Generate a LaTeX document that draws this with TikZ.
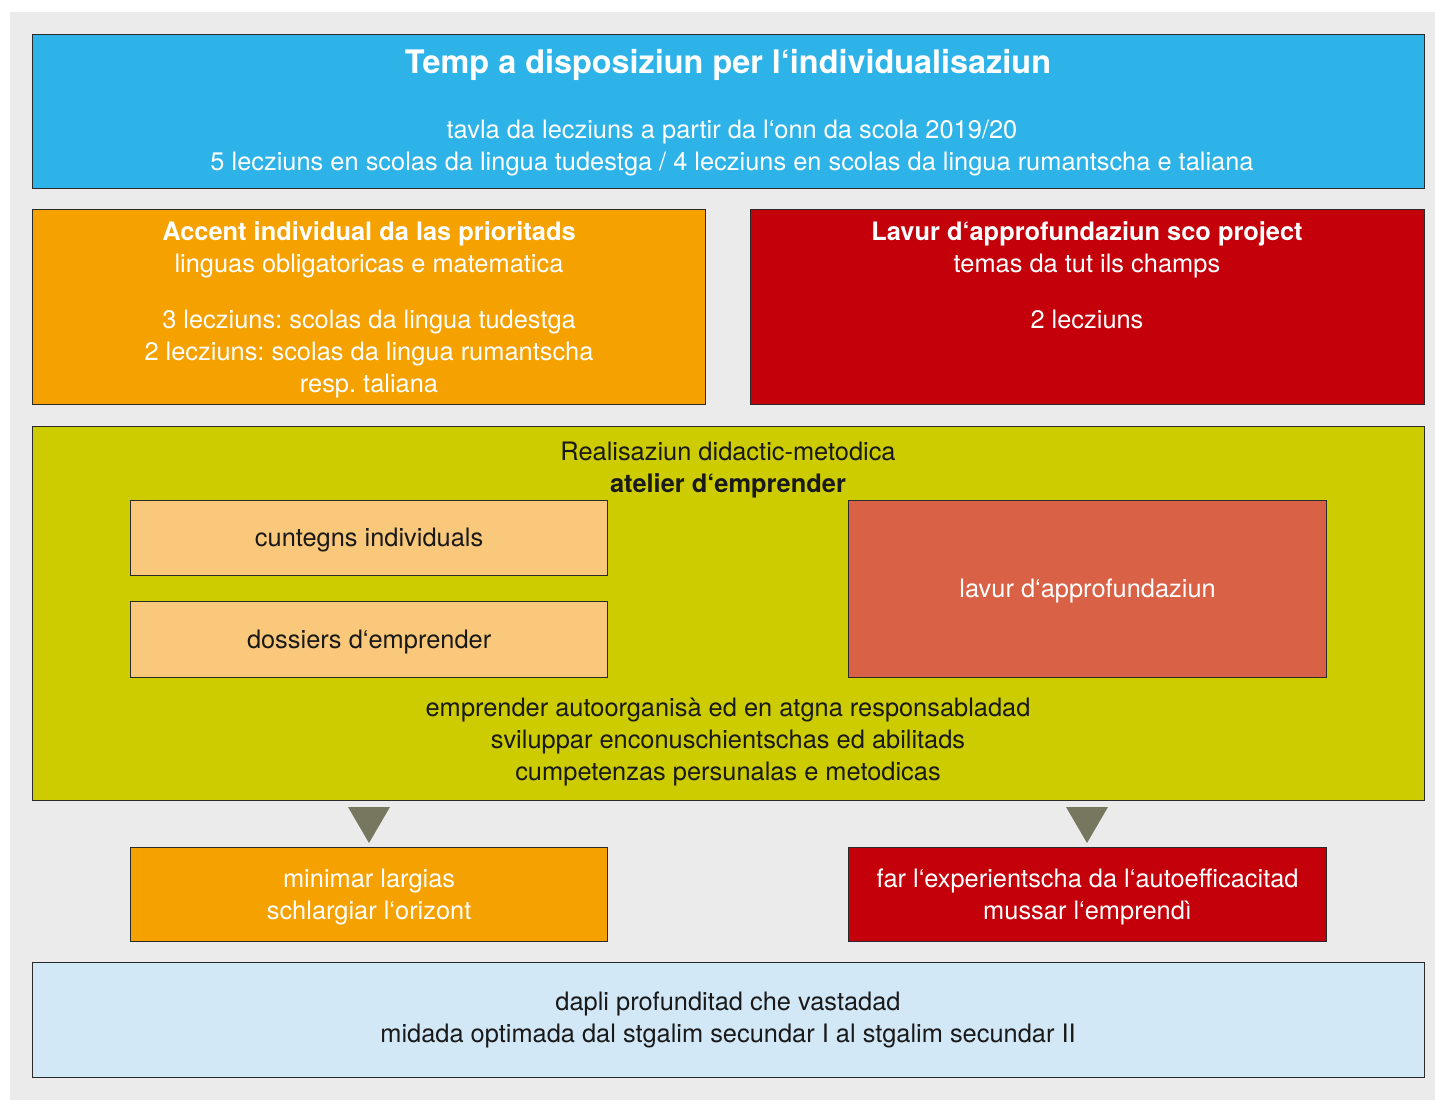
\documentclass[tikz,border=0pt]{standalone}
\usepackage{fontspec}
\setmainfont{TeX Gyre Heros}
\frenchspacing
\definecolor{bgc}{HTML}{EBEBEB}
\definecolor{cblue}{HTML}{2DB3E8}
\definecolor{corange}{HTML}{F5A100}
\definecolor{cred}{HTML}{C4000A}
\definecolor{cgreen}{HTML}{CCCC00}
\definecolor{clorange}{HTML}{FAC87A}
\definecolor{ccoral}{HTML}{D96145}
\definecolor{ctri}{HTML}{77775F}
\definecolor{clblue}{HTML}{D2E8F7}
\definecolor{cedge}{HTML}{2A2A2A}
\tikzset{
  box/.style={draw=cedge, line width=0.6pt, inner sep=0pt, anchor=north west},
  txt/.style={align=center, inner sep=0pt, font=\fontsize{12.7}{16}\selectfont\frenchspacing},
  wtxt/.style={txt, text=white},
  btxt/.style={txt, text=black!90},
  tri/.style={fill=ctri, draw=none}
}
\begin{document}
\begin{tikzpicture}[x=0.5pt,y=-0.5pt]
\useasboundingbox (0,0) rectangle (1435,1100);
\fill[bgc] (10,12) rectangle (1435,1100);

% top blue box
\node[box, fill=cblue, minimum width=696pt, minimum height=77pt] (top) at (32,34) {};
\node[wtxt, font=\fontsize{16.2}{18}\selectfont\bfseries] (toptitle) at (728,65) {Temp a disposiziun per l‘individualisaziun};
\node[wtxt] (topsub) at (732,148) {tavla da lecziuns a partir da l‘onn da scola 2019/20\\5 lecziuns en scolas da lingua tudestga / 4 lecziuns en scolas da lingua rumantscha e taliana};

% orange box
\node[box, fill=corange, minimum width=336.5pt, minimum height=97.5pt] (acc) at (32,209) {};
\node[wtxt, anchor=north] (acctext) at (369,221) {\textbf{Accent individual da las prioritads}\\linguas obligatoricas e matematica\\[12pt]3 lecziuns: scolas da lingua tudestga\\2 lecziuns: scolas da lingua rumantscha\\resp. taliana};

% red box
\node[box, fill=cred, minimum width=337pt, minimum height=97.5pt] (lav) at (750,209) {};
\node[wtxt, anchor=north] (lavtext) at (1087,221) {\textbf{Lavur d‘approfundaziun sco project}\\temas da tut ils champs\\[12pt]2 lecziuns};

% green box
\node[box, fill=cgreen, minimum width=696pt, minimum height=187pt] (real) at (32,426) {};
\node[btxt] (realtitle) at (728,470) {Realisaziun didactic-metodica\\\textbf{atelier d‘emprender}};
\node[box, fill=clorange, minimum width=238.5pt, minimum height=37.5pt] (cunt) at (130,500) {};
\node[btxt] at ([yshift=-1pt]cunt.center) {cuntegns individuals};
\node[box, fill=clorange, minimum width=238.5pt, minimum height=38pt] (doss) at (130,601) {};
\node[btxt] at ([yshift=-1pt]doss.center) {dossiers d‘emprender};
\node[box, fill=ccoral, minimum width=239pt, minimum height=88.5pt] (lavapp) at (848,500) {};
\node[wtxt] at ([yshift=-1pt]lavapp.center) {lavur d‘approfundaziun};
\node[btxt] (realbottom) at (728,742) {emprender autoorganisà ed en atgna responsabladad\\sviluppar enconuschientschas ed abilitads\\cumpetenzas persunalas e metodicas};

% triangles
\fill[tri] (348,807) -- (390,807) -- (369,843) -- cycle;
\fill[tri] (1066,807) -- (1108,807) -- (1087,843) -- cycle;

% result boxes
\node[box, fill=corange, minimum width=238.5pt, minimum height=47pt] (minim) at (130,847) {};
\node[wtxt] at ([yshift=-1pt]minim.center) {minimar largias\\schlargiar l‘orizont};
\node[box, fill=cred, minimum width=239pt, minimum height=47pt] (far) at (848,847) {};
\node[wtxt] at ([yshift=-1pt]far.center) {far l‘experientscha da l‘autoefficacitad\\mussar l‘emprendì};

% bottom light blue
\node[box, fill=clblue, minimum width=696pt, minimum height=57.5pt] (dapli) at (32,962) {};
\node[btxt] at (728,1020) {dapli profunditad che vastadad\\midada optimada dal stgalim secundar I al stgalim secundar II};
\end{tikzpicture}
\end{document}
